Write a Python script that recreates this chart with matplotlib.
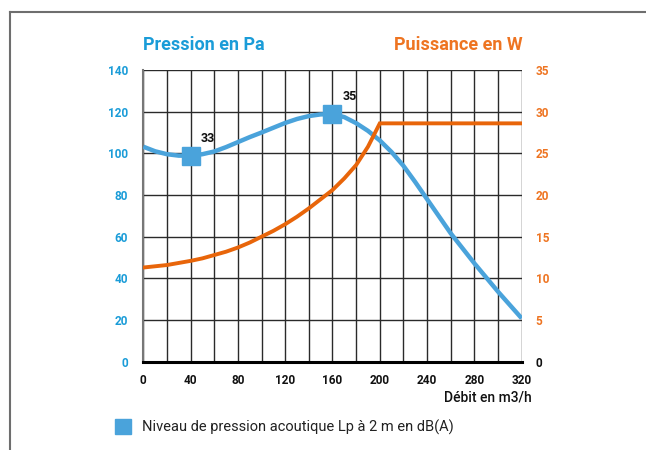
import matplotlib.pyplot as plt
from matplotlib.lines import Line2D
from matplotlib.patches import Rectangle

# Courbe pression (Pa) en fonction du débit (m3/h)
debit_p = [0, 10, 20, 30, 40, 50, 60, 70, 80, 90, 100, 110, 120, 130, 140,
           150, 160, 170, 180, 190, 200, 210, 220, 230, 240, 250, 260, 270,
           280, 290, 300, 310, 320]
pression = [103.2, 101.0, 99.6, 98.9, 98.9, 99.6, 100.9, 103.0, 105.4, 107.8,
            110.0, 112.3, 114.6, 116.5, 117.9, 118.7, 118.8, 117.4, 114.5,
            110.8, 106.2, 100.6, 94.0, 86.2, 78.0, 69.8, 61.6, 54.4, 47.2,
            40.4, 33.6, 27.2, 20.8]

# Courbe puissance absorbée (W)
debit_w = [0, 10, 20, 30, 40, 50, 60, 70, 80, 90, 100, 110, 120, 130, 140,
           150, 160, 170, 180, 190, 200, 320]
puissance = [11.3, 11.45, 11.6, 11.85, 12.1, 12.4, 12.8, 13.2, 13.7, 14.3,
             15.0, 15.7, 16.5, 17.4, 18.4, 19.5, 20.6, 22.0, 23.6, 25.8,
             28.6, 28.6]

# Points de niveau sonore Lp
debit_lp = [40, 160]
pression_lp = [98.9, 118.8]
lp_db = ["33", "35"]

x_ticks = list(range(0, 321, 40))
pa_ticks = list(range(0, 141, 20))
w_ticks = list(range(0, 36, 5))

BLEU_TXT = "#1a9cd8"
BLEU = "#4aa3db"
ORANGE = "#e8650a"
ORANGE_TXT = "#ee7421"

plt.rcParams["font.family"] = ["Roboto", "DejaVu Sans"]

fig = plt.figure(figsize=(6.46, 4.5), dpi=100)
ax = fig.add_axes([0.2218, 0.1962, 0.5858, 0.6482])
ax.set_xlim(0, 320)
ax.set_ylim(0, 140)

# grille
for xv in range(0, 321, 20):
    ax.axvline(xv, color="#2a2a2a", lw=1.0, zorder=1)
for yv in range(20, 141, 20):
    ax.axhline(yv, color="#2a2a2a", lw=1.0, zorder=1)

for side in ("top", "right"):
    ax.spines[side].set_visible(False)
ax.spines["left"].set_color("#777777")
ax.spines["left"].set_linewidth(1.5)
ax.spines["bottom"].set_color("black")
ax.spines["bottom"].set_linewidth(2.2)

ax.plot(debit_p, pression, color=BLEU, lw=3.2, solid_capstyle="butt",
        solid_joinstyle="round", zorder=3)
ax2 = ax.twinx()
ax2.set_ylim(0, 35)
ax2.plot(debit_w, puissance, color=ORANGE, lw=2.8, solid_joinstyle="miter",
         zorder=3)
for s in ax2.spines.values():
    s.set_visible(False)

ax2.plot(debit_lp, [p / 4 for p in pression_lp], "s", color=BLEU, ms=12.5,
         zorder=5)
for xv, yv, lab in zip(debit_lp, pression_lp, lp_db):
    ax2.annotate(lab, (xv, yv / 4), xytext=(7.5, 12.5),
                 textcoords="offset points", fontsize=9, fontweight="bold",
                 color="#111111", va="center", ha="left")

ax.set_xticks(x_ticks)
ax.set_xticklabels([str(v) for v in x_ticks], fontsize=8.5, fontweight="bold",
                   color="#111111")
ax.set_yticks(pa_ticks)
ax.set_yticklabels([str(v) for v in pa_ticks], fontsize=8.5,
                   fontweight="bold", color=BLEU_TXT)
ax.tick_params(axis="x", length=0, pad=9)
ax.tick_params(axis="y", length=0, pad=11)

ax2.set_yticks(w_ticks)
ax2.set_yticklabels([str(v) for v in w_ticks], fontsize=8.5,
                    fontweight="bold")
ax2.tick_params(axis="y", length=0, pad=10)
for t, v in zip(ax2.get_yticklabels(), w_ticks):
    t.set_color("#111111" if v == 0 else ORANGE_TXT)

# titres
fig.text(143 / 646, 1 - 45 / 450, "Pression en Pa", fontsize=13,
         fontweight="bold", color=BLEU_TXT, ha="left", va="center")
fig.text(523 / 646, 1 - 45 / 450, "Puissance en W", fontsize=13,
         fontweight="bold", color=ORANGE_TXT, ha="right", va="center")
fig.text(532 / 646, 1 - 397 / 450, "Débit en m3/h", fontsize=10,
         fontweight="medium", color="#111111", ha="right", va="center")

# légende
fig.patches.append(Rectangle((115 / 646, 1 - 434 / 450), 16 / 646, 15 / 450,
                             transform=fig.transFigure, color=BLEU))
fig.text(142 / 646, 1 - 427 / 450,
         "Niveau de pression acoutique Lp à 2 m en dB(A)", fontsize=10.5,
         color="#222222", ha="left", va="center")

# cadre
fig.add_artist(Line2D([10 / 646, 10 / 646], [0, 1 - 12 / 450],
                      transform=fig.transFigure, color="#6e6e6e", lw=1.5))
fig.add_artist(Line2D([10 / 646, 1], [1 - 12 / 450, 1 - 12 / 450],
                      transform=fig.transFigure, color="#6e6e6e", lw=1.5))

fig.savefig("out.png", dpi=100)
